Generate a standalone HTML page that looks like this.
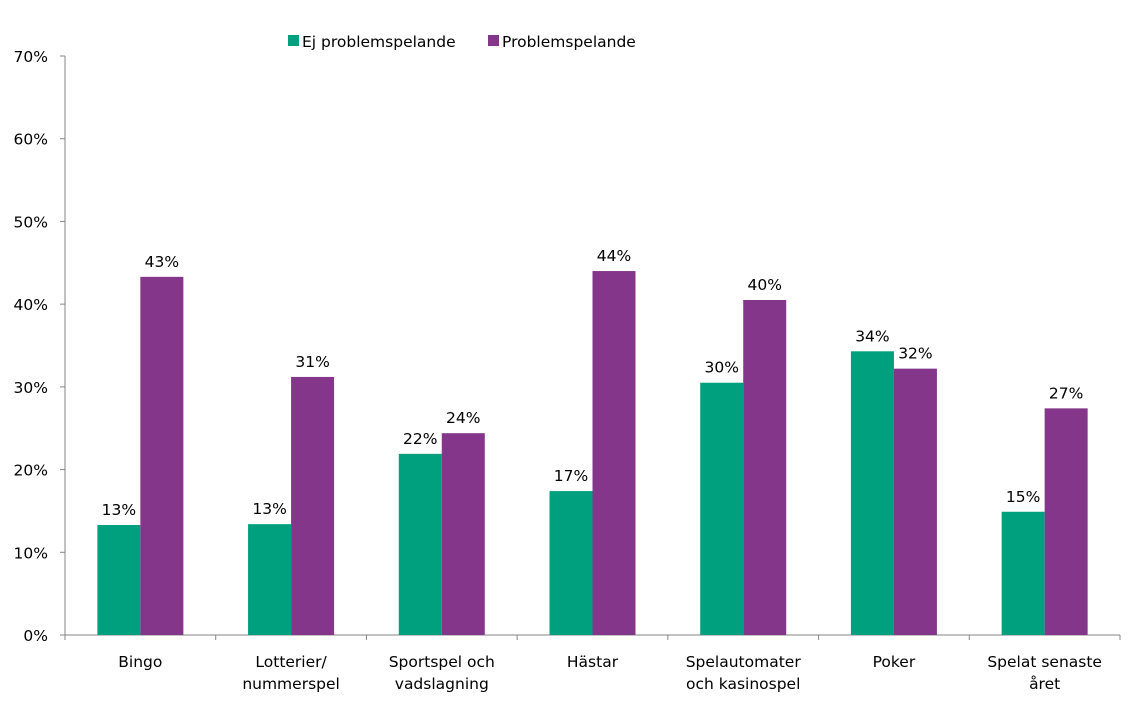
<!DOCTYPE html>
<html><head><meta charset="utf-8"><style>
html,body{margin:0;padding:0;background:#fff;}
svg text{font-family:"DejaVu Sans","Liberation Sans",sans-serif;font-size:15.5px;fill:#000;}
</style></head><body>
<svg id="chart" width="1135" height="701"></svg>
<script>
const categories=[["Bingo"],["Lotterier/","nummerspel"],["Sportspel och","vadslagning"],["Hästar"],["Spelautomater","och kasinospel"],["Poker"],["Spelat senaste","året"]];
const seriesEj=[13.3,13.4,21.9,17.4,30.5,34.3,14.9];
const seriesProb=[43.3,31.2,24.4,44.0,40.5,32.2,27.4];
const labelsEj=["13%","13%","22%","17%","30%","34%","15%"];
const labelsProb=["43%","31%","24%","44%","40%","32%","27%"];
const yTicks=[0,10,20,30,40,50,60,70];
const seriesNames=["Ej problemspelande","Problemspelande"];
const colors=["#00A07E","#84378A"];

const svg=document.getElementById('chart');
const NS="http://www.w3.org/2000/svg";
const x0=65,x1=1120,yBase=635,yTop=56,maxV=70;
const y=v=>yBase-(v/maxV)*(yBase-yTop);
const band=(x1-x0)/categories.length;
const cx=i=>x0+band*(i+0.5);
const bw=43;
function mk(tag,attrs,parent){const e=document.createElementNS(NS,tag);for(const k in attrs)e.setAttribute(k,attrs[k]);(parent||svg).appendChild(e);return e;}

let ax=mk('line',{x1:x0,y1:yTop,x2:x0,y2:yBase,stroke:'#868686','stroke-width':1});


let xa=mk('line',{x1:x0,y1:yBase,x2:x1,y2:yBase,stroke:'#868686','stroke-width':1});


yTicks.forEach(t=>{
  let tk=mk('line',{x1:x0-5,y1:y(t),x2:x0,y2:y(t),stroke:'#868686'});
  
  
  let tx=mk('text',{x:x0-17,y:y(t)+6,'text-anchor':'end'});
  tx.textContent=t+'%';
  
  
});
for(let i=0;i<=categories.length;i++){
  let tk=mk('line',{x1:x0+band*i,y1:yBase,x2:x0+band*i,y2:yBase+5,stroke:'#868686'});
  
  
}
categories.forEach((c,i)=>{
  [[seriesEj,labelsEj,0],[seriesProb,labelsProb,1]].forEach(([s,l,k])=>{
    const bx=cx(i)-bw+k*bw;
    let r=mk('rect',{x:bx,y:y(s[i]),width:bw,height:yBase-y(s[i]),fill:colors[k]});
    
    
    let t=mk('text',{x:bx+bw/2,y:y(s[i])-10,'text-anchor':'middle'});
    t.textContent=l[i];
    
    
  });
  let t=mk('text',{x:cx(i),y:667,'text-anchor':'middle'});
  
  
  c.forEach((line,j)=>{let ts=mk('tspan',{x:cx(i),dy:j?22:0},t);ts.textContent=line;});
});
const legX=[288,488];
seriesNames.forEach((n,k)=>{
  let r=mk('rect',{x:legX[k],y:35,width:11,height:11,fill:colors[k]});
  
  
  let t=mk('text',{x:legX[k]+14,y:47});
  t.textContent=n;
  
  
});
</script>
</body></html>
